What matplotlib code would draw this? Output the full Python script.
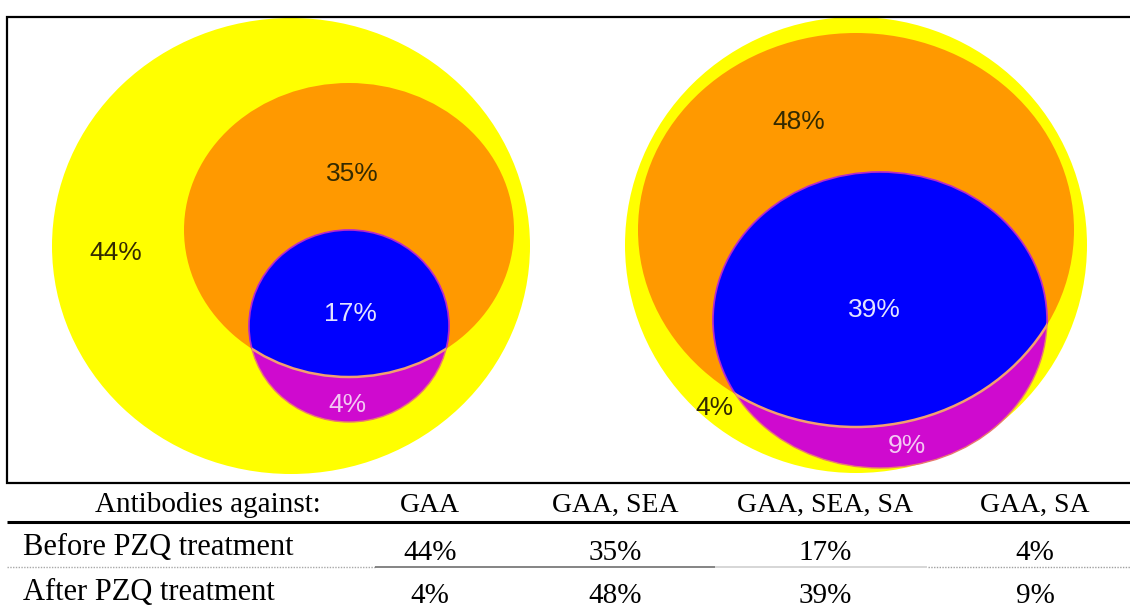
import matplotlib
matplotlib.use("Agg")
import matplotlib.pyplot as plt
from matplotlib.patches import Ellipse

# ----------------------------
# Data
# ----------------------------
header = "Antibodies against:"
categories = ["GAA", "GAA, SEA", "GAA, SEA, SA", "GAA, SA"]
row_labels = ["Before PZQ treatment", "After PZQ treatment"]
before = [44, 35, 17, 4]
after = [4, 48, 39, 9]

# ----------------------------
# Layout (pixel coords, y down)
# ----------------------------
W, H = 1130, 608
YELLOW, ORANGE, BLUE, MAGENTA = "#FFFF00", "#FF9900", "#0000FF", "#CF0ACF"
DARK, LIGHT, PINK = "#332a00", "#E4E4FF", "#F4C8F4"

# ellipse geometry per diagram: (cx, cy, rx, ry)
venns = [
    dict(yellow=(291, 246, 239, 228), orange=(349, 230, 165, 147), inner=(349, 326, 100, 96),
         pos=[(116, 253), (352, 174), (350, 314), (347, 405)],
         colors=[DARK, DARK, LIGHT, PINK]),
    dict(yellow=(856, 245, 231, 228), orange=(856, 230, 218, 197), inner=(880, 320, 167, 148),
         pos=[(714, 408), (799, 122), (874, 310), (907, 446)],
         colors=[DARK, DARK, LIGHT, PINK]),
]
values = [before, after]

col_x = [430, 615, 825, 1035]


def ell(geom, **kw):
    cx, cy, rx, ry = geom
    return Ellipse((cx, cy), 2 * rx, 2 * ry, **kw)


fig = plt.figure(figsize=(W / 100, H / 100), dpi=100)
ax = fig.add_axes([0, 0, 1, 1])
ax.set_xlim(0, W)
ax.set_ylim(H, 0)
ax.axis("off")

for v, vals in zip(venns, values):
    ax.add_patch(ell(v["yellow"], facecolor=YELLOW, edgecolor="none", zorder=1))
    orange = ell(v["orange"], facecolor=ORANGE, edgecolor="none", zorder=2)
    ax.add_patch(orange)
    ax.add_patch(ell(v["inner"], facecolor=MAGENTA, edgecolor="#E87A70", lw=1.0, zorder=3))
    inner_clip = ell(v["inner"], facecolor="none", edgecolor="none")
    ax.add_patch(inner_clip)
    blue = ell(v["inner"], facecolor=BLUE, edgecolor="#B828C8", lw=1.2, zorder=4)
    ax.add_patch(blue)
    blue.set_clip_path(orange)
    arc = ell(v["orange"], facecolor="none", edgecolor="#F2A070", lw=1.8, zorder=5)
    ax.add_patch(arc)
    arc.set_clip_path(inner_clip)
    for (x, y), c, val in zip(v["pos"], v["colors"], vals):
        ax.text(x, y, f"{val}%", ha="center", va="center", color=c,
                fontsize=19, family="Liberation Sans", zorder=6)

# box around diagrams
ax.plot([W, 7, 7, W], [17, 17, 483, 483], color="black", lw=1.6, zorder=7,
        solid_joinstyle="miter", clip_on=False)

# ----------------------------
# Table
# ----------------------------
serif = "Liberation Serif"
ax.text(208, 512, header, ha="center", va="baseline", fontsize=21, family=serif)
for x, c in zip(col_x, categories):
    ax.text(x, 512, c, ha="center", va="baseline", fontsize=20, family=serif)

ax.hlines(522, 7, W, color="black", lw=2.2)

row_base = [555, 600]
val_base = [560, 603]
for yb, yv, lab, vals in zip(row_base, val_base, row_labels, values):
    ax.text(23, yb, lab, ha="left", va="baseline", fontsize=22, family=serif)
    for x, val in zip(col_x, vals):
        ax.text(x, yv, f"{val}%", ha="center", va="baseline", fontsize=21, family=serif)

# separator between rows
ax.hlines(567, 7, 375, color="#a8a8a8", lw=1.0, linestyles=(0, (1, 1)))
ax.hlines(567, 375, 715, color="#707070", lw=1.2)
ax.hlines(567, 715, 927, color="#cfcfcf", lw=1.2)
ax.hlines(567, 928, W, color="#a0a0a0", lw=1.0, linestyles=(0, (1, 1)))

fig.savefig("out.png", dpi=100)
